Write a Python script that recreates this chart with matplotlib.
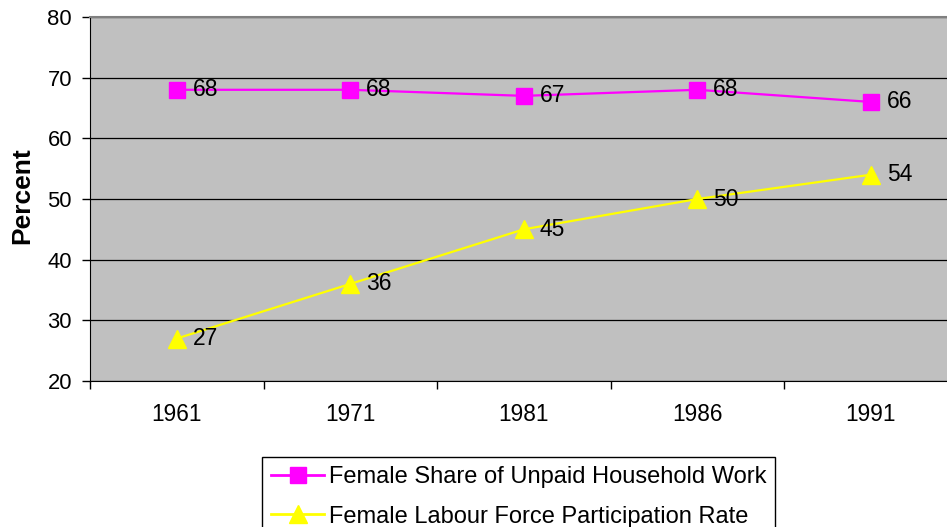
import matplotlib
matplotlib.use("Agg")
import matplotlib.pyplot as plt

years = ["1961", "1971", "1981", "1986", "1991"]
unpaid_share = [68, 68, 67, 68, 66]
labour_rate = [27, 36, 45, 50, 54]
series_names = ["Female Share of Unpaid Household Work", "Female Labour Force Participation Rate"]

plt.rcParams['font.family'] = ['Liberation Sans', 'DejaVu Sans']

W, H = 947, 527
fig = plt.figure(figsize=(W / 100, H / 100), dpi=100)
left, right, top, bottom = 90, 90 + 5 * 173.5, 17, 381
ax = fig.add_axes([left / W, 1 - bottom / H, (right - left) / W, (bottom - top) / H])
ax.set_facecolor('#C0C0C0')

x = list(range(len(years)))
ax.plot(x, unpaid_share, color='#FF00FF', lw=1.6, marker='s', ms=11.3,
        label=series_names[0], zorder=3)
ax.plot(x, labour_rate, color='#FFFF00', lw=1.6, marker='^', ms=12.5,
        label=series_names[1], zorder=3)

for xi, v in zip(x, unpaid_share):
    ax.annotate(str(v), (xi, v), xytext=(11.5, 0), textcoords='offset points',
                va='center', ha='left', fontsize=16.5, zorder=4)
for xi, v in zip(x, labour_rate):
    ax.annotate(str(v), (xi, v), xytext=(11.5, 0), textcoords='offset points',
                va='center', ha='left', fontsize=16.5, zorder=4)

ax.set_xlim(-0.5, len(years) - 0.5)
ax.set_ylim(20, 80)
ax.set_yticks(range(20, 81, 10))
ax.yaxis.grid(True, color='#000000', lw=0.9)
ax.set_axisbelow(True)
ax.set_xticks(x)
ax.set_xticklabels(years)
ax.set_xticks([i - 0.5 for i in range(len(years) + 1)], minor=True)
ax.tick_params(axis='x', which='major', length=0, pad=16, labelsize=16.3)
ax.tick_params(axis='x', which='minor', length=6, width=1, direction='out')
ax.tick_params(axis='y', length=6, width=1, direction='out', labelsize=15.8, pad=7)

for s in ['top', 'right']:
    ax.spines[s].set_color('#808080')
    ax.spines[s].set_linewidth(1.5)
ax.spines['left'].set_color('black')
ax.spines['bottom'].set_color('black')

fig.text(22 / W, 1 - 196 / H, "Percent", rotation=90, fontsize=19, fontweight='bold',
         ha='center', va='center')

leg = fig.legend(loc='upper left', bbox_to_anchor=(262 / W, 1 - 457 / H), fontsize=17,
                 frameon=True, fancybox=False, edgecolor='black', framealpha=1,
                 handlelength=2.25, handletextpad=0.2, borderpad=0.38, labelspacing=0.75,
                 borderaxespad=0)
leg.get_frame().set_linewidth(1.0)
for h in leg.get_lines():
    h.set_linewidth(2.0)

fig.savefig('out.png', dpi=100)
